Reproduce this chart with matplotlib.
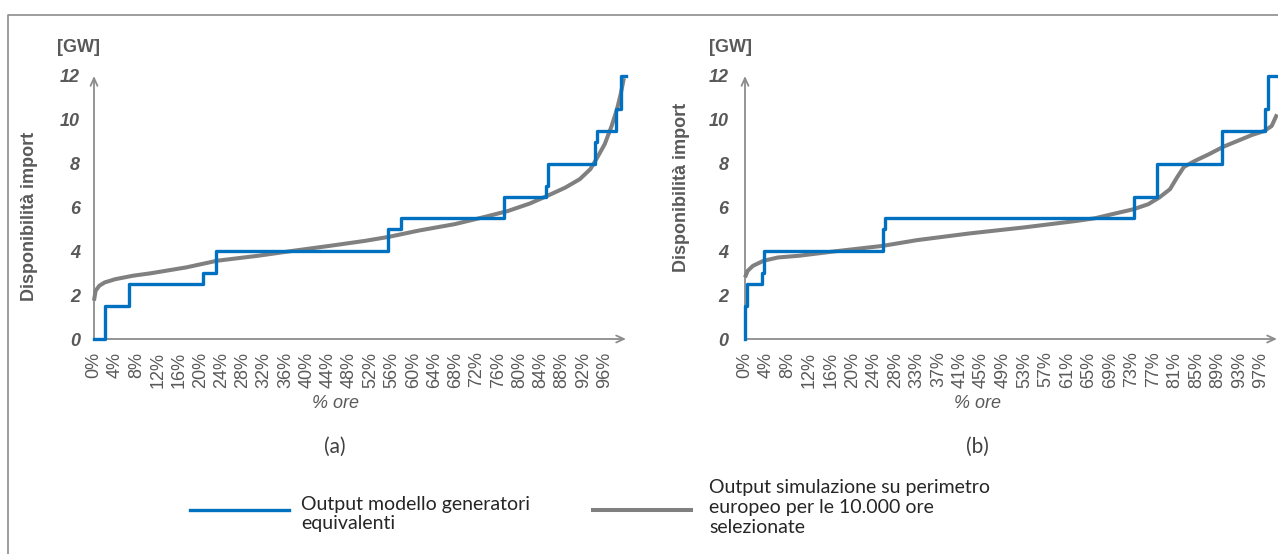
import matplotlib
matplotlib.use("Agg")
import matplotlib.pyplot as plt
from matplotlib.lines import Line2D

W, H = 1278, 554

# curva a gradini: modello a generatori equivalenti
a_step_x = [0, 2.0, 6.5, 20.4, 23.0, 55.2, 57.8, 77.1, 84.9, 85.4, 94.1, 94.6, 98.1, 99.0, 100]
a_step_y = [0, 1.5, 2.5, 3.0, 4.0, 5.0, 5.5, 6.5, 7.0, 8.0, 9.0, 9.5, 10.5, 12, 12]
b_step_x = [0, 0, 0.4, 3.2, 3.5, 25.9, 26.3, 73.1, 77.4, 89.6, 97.7, 98.3, 100.5]
b_step_y = [0, 1.5, 2.5, 3.0, 4.0, 5.0, 5.5, 6.5, 8.0, 9.5, 10.5, 12, 12]

# curva di durata: simulazione su perimetro europeo
a_sim_x = [0, 0.3, 1.0, 2.0, 4.0, 7.4, 10.7, 17.4, 23.1, 30.9, 37.6, 44.3, 51.0, 55.4,
           61.1, 67.8, 73.1, 77.8, 81.9, 85.2, 88.6, 91.3, 93.3, 94.6, 96.0, 97.3,
           98.3, 99.0, 99.6]
a_sim_y = [1.75, 2.2, 2.43, 2.58, 2.73, 2.89, 3.0, 3.27, 3.57, 3.8, 4.03, 4.25, 4.48, 4.66,
           4.95, 5.24, 5.55, 5.84, 6.18, 6.53, 6.91, 7.29, 7.75, 8.28, 8.89, 9.72,
           10.48, 11.17, 11.9]
b_sim_x = [0, 0.5, 1.5, 3.5, 6.2, 10.2, 16.9, 25.9, 32.3, 42.3, 52.4, 62.4, 65.8, 69.1,
           73.0, 75.8, 77.9, 79.9, 81.2, 82.5, 84.6, 87.2, 89.9, 92.6, 95.3, 97.6,
           99.0, 100.0]
b_sim_y = [2.81, 3.11, 3.34, 3.57, 3.72, 3.8, 4.0, 4.25, 4.51, 4.82, 5.09, 5.39, 5.51, 5.7,
           5.92, 6.15, 6.46, 6.84, 7.37, 7.85, 8.13, 8.43, 8.77, 9.04, 9.31, 9.49,
           9.72, 10.25]

a_ticks = [4 * i for i in range(25)]
a_labels = [f"{t}%" for t in a_ticks]
b_labels = ["0%", "4%", "8%", "12%", "16%", "20%", "24%", "28%", "33%", "37%", "41%",
            "45%", "49%", "53%", "57%", "61%", "65%", "69%", "73%", "77%", "81%", "85%",
            "89%", "93%", "97%"]
b_ticks = [i * 4.04 for i in range(len(b_labels))]
y_ticks = [0, 2, 4, 6, 8, 10, 12]

BLUE = "#0070C0"
GREY_LINE = "#808080"
TXT = "#595959"
AX = "#8c8c8c"
SANS = ["Liberation Sans", "DejaVu Sans"]
CAL = ["Lato", "DejaVu Sans"]

fig = plt.figure(figsize=(W / 100, H / 100), dpi=100)


def fx(x):
    return x / W


def fy(y):
    return 1 - y / H


def panel(left, steps, sim, ticks, labels, ypad):
    ax = fig.add_axes([fx(left), fy(339), 532 / W, (339 - 76) / H])
    ax.set_xlim(0, 100)
    ax.set_ylim(0, 12)
    for s in ax.spines.values():
        s.set_visible(False)
    arrow = dict(arrowstyle="->,head_length=0.55,head_width=0.25", color=AX,
                 lw=1.3, shrinkA=0, shrinkB=0)
    ax.annotate("", xy=(1, 0), xytext=(0, 0), xycoords="axes fraction", arrowprops=arrow)
    ax.annotate("", xy=(0, 1), xytext=(0, 0), xycoords="axes fraction", arrowprops=arrow)
    ax.plot(sim[0], sim[1], color=GREY_LINE, lw=2.9, clip_on=False, zorder=3,
            solid_capstyle="butt", solid_joinstyle="round")
    ax.step(steps[0], steps[1], where="post", color=BLUE, lw=2.4, clip_on=False,
            zorder=4)
    ax.set_xticks(ticks)
    ax.set_xticklabels(labels, rotation=90, fontsize=13, color=TXT, family=SANS)
    ax.set_yticks(y_ticks)
    ax.set_yticklabels([str(v) for v in y_ticks], fontsize=13, color=TXT,
                       family=SANS, fontweight="bold", fontstyle="italic")
    ax.tick_params(axis="x", length=0, pad=9)
    ax.tick_params(axis="y", length=0, pad=ypad)
    ax.patch.set_alpha(0)
    return ax


panel(94, (a_step_x, a_step_y), (a_sim_x, a_sim_y), a_ticks, a_labels, 10)
panel(745, (b_step_x, b_step_y), (b_sim_x, b_sim_y), b_ticks, b_labels, 12)

# titoli assi e didascalie
for gx, ox, sub in [(79, 335, "(a)"), (730, 977, "(b)")]:
    fig.text(fx(gx), fy(48), "[GW]", ha="center", va="center", fontsize=13,
             fontweight="bold", color=TXT, family=SANS)
    fig.text(fx(ox), fy(403), "% ore", ha="center", va="center", fontsize=13,
             fontstyle="italic", color=TXT, family=SANS)
    fig.text(fx(ox), fy(447), sub, ha="center", va="center", fontsize=15,
             color="#404040", family=CAL)
fig.text(fx(30), fy(216), "Disponibilità import", rotation=90, ha="center",
         va="center", fontsize=13, fontweight="bold", color=TXT, family=SANS)
fig.text(fx(681), fy(187), "Disponibilità import", rotation=90, ha="center",
         va="center", fontsize=13, fontweight="bold", color=TXT, family=SANS)

# legenda
fig.add_artist(Line2D([fx(190), fx(289)], [fy(510), fy(510)], color=BLUE, lw=2.4))
fig.add_artist(Line2D([fx(593), fx(691)], [fy(510), fy(510)], color=GREY_LINE, lw=2.9))
fig.text(fx(301), fy(514), "Output modello generatori\nequivalenti", ha="left",
         va="center", fontsize=14, color="#262626", family=CAL, linespacing=1.2)
fig.text(fx(709), fy(507.5),
         "Output simulazione su perimetro\neuropeo per le 10.000 ore\nselezionate",
         ha="left", va="center", fontsize=14, color="#262626", family=CAL,
         linespacing=1.2)

# cornice
fig.add_artist(Line2D([fx(8), fx(8), fx(W)], [0, fy(15), fy(15)], color=AX, lw=1.2))

fig.savefig("out.png", dpi=100)
